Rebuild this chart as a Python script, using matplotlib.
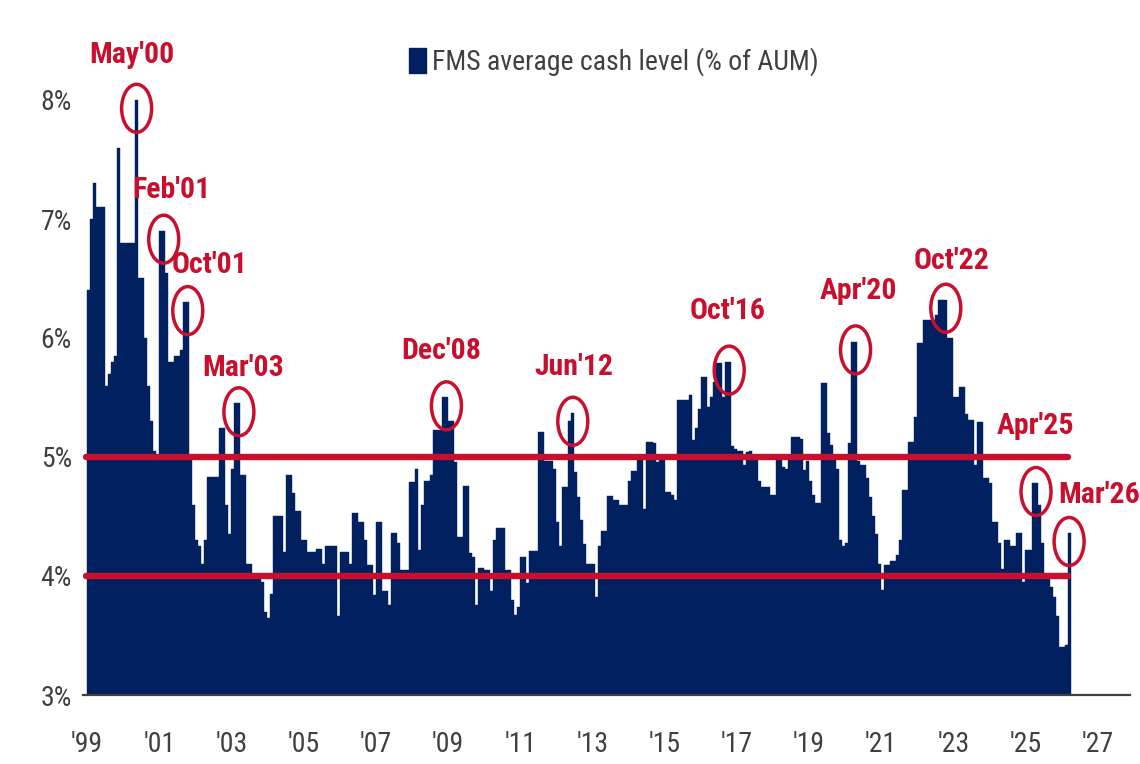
import numpy as np
import matplotlib
matplotlib.use("Agg")
import matplotlib.pyplot as plt
from matplotlib import font_manager as fm
from matplotlib.patches import Ellipse, Patch

# ---------------- data (monthly FMS average cash level, % of AUM) ----------------
cash_1999 = [6.4, 7.0, 7.3, 7.1, 7.1, 7.1, 5.6, 5.7, 5.8, 5.85, 7.6, 6.8]
cash_2000 = [6.8, 6.8, 6.8, 6.8, 8.0, 6.5, 6.5, 6.0, 5.6, 5.3, 5.05, 5.0]
cash_2001 = [6.9, 6.9, 6.55, 5.8, 5.8, 5.85, 5.85, 5.9, 6.3, 6.3, 5.0, 4.6]
cash_2002 = [4.3, 4.25, 4.1, 4.3, 4.83, 4.83, 4.83, 4.83, 5.24, 5.24, 4.6, 4.35]
cash_2003 = [4.9, 5.45, 5.45, 4.85, 4.85, 4.1, 4.1, 4.0, 3.98, 3.98, 3.95, 3.7]
cash_2004 = [3.65, 3.85, 4.5, 4.5, 4.5, 4.2, 4.85, 4.85, 4.7, 4.55, 4.55, 4.3]
cash_2005 = [4.3, 4.2, 4.2, 4.2, 4.23, 4.23, 4.1, 4.25, 4.25, 4.25, 4.25, 3.66]
cash_2006 = [4.2, 4.2, 4.2, 4.1, 4.53, 4.53, 4.45, 4.45, 4.3, 4.09, 4.09, 3.84]
cash_2007 = [4.45, 4.45, 3.87, 3.87, 3.76, 4.36, 4.36, 4.28, 4.05, 4.05, 4.05, 4.79]
cash_2008 = [4.79, 4.9, 4.22, 4.6, 4.8, 4.8, 4.85, 5.23, 5.23, 5.23, 5.5, 5.5]
cash_2009 = [5.3, 5.3, 4.96, 4.33, 4.33, 4.76, 4.76, 4.19, 4.16, 3.76, 4.07, 4.07]
cash_2010 = [4.05, 4.05, 3.87, 4.3, 4.4, 4.4, 4.4, 4.05, 4.05, 3.8, 3.67, 3.74]
cash_2011 = [4.16, 4.16, 3.94, 4.21, 4.21, 4.21, 5.21, 5.21, 4.97, 4.97, 4.97, 4.9]
cash_2012 = [4.45, 4.25, 4.75, 4.75, 5.3, 5.37, 4.87, 4.66, 4.47, 4.27, 4.1, 4.1]
cash_2013 = [4.1, 3.82, 4.25, 4.38, 4.38, 4.67, 4.67, 4.64, 4.64, 4.6, 4.6, 4.6]
cash_2014 = [4.8, 4.88, 4.88, 5.01, 5.01, 4.56, 5.13, 5.13, 5.12, 4.96, 5.0, 5.0]
cash_2015 = [4.71, 4.71, 4.68, 4.64, 5.48, 5.48, 5.48, 5.48, 5.52, 5.14, 5.24, 5.4]
cash_2016 = [5.67, 5.67, 5.42, 5.5, 5.63, 5.79, 5.79, 5.5, 5.8, 5.8, 5.09, 5.07]
cash_2017 = [5.05, 5.05, 4.93, 5.04, 5.05, 5.0, 5.0, 4.8, 4.75, 4.75, 4.75, 4.68]
cash_2018 = [4.68, 5.0, 5.0, 4.92, 4.9, 5.0, 5.17, 5.17, 5.17, 5.15, 4.89, 4.97]
cash_2019 = [4.8, 4.68, 4.61, 4.61, 5.62, 5.62, 5.2, 5.1, 5.0, 4.9, 4.3, 4.25]
cash_2020 = [4.28, 5.12, 5.97, 5.97, 4.97, 4.93, 4.93, 4.82, 4.66, 4.5, 4.35, 4.1]
cash_2021 = [3.88, 4.09, 4.09, 4.13, 4.13, 4.18, 4.3, 4.72, 4.72, 5.13, 5.13, 5.34]
cash_2022 = [5.96, 5.96, 6.15, 6.15, 6.15, 6.15, 6.19, 6.32, 6.32, 6.32, 6.0, 6.0]
cash_2023 = [5.5, 5.5, 5.59, 5.59, 5.36, 5.31, 5.31, 4.93, 5.29, 5.29, 4.82, 4.82]
cash_2024 = [4.78, 4.45, 4.45, 4.28, 4.06, 4.3, 4.3, 4.25, 4.25, 4.36, 4.36, 3.95]
cash_2025 = [4.22, 4.22, 4.78, 4.78, 4.6, 4.28, 4.0, 4.0, 3.91, 3.82, 3.66, 3.4]
cash_2026 = [3.4, 3.42, 4.36]

start_year = 1999
series_label = "FMS average cash level (% of AUM)"

ytick_values = [3, 4, 5, 6, 7, 8]
ytick_labels = ["3%", "4%", "5%", "6%", "7%", "8%"]
xtick_years = list(range(1999, 2028, 2))
xtick_labels = ["'99", "'01", "'03", "'05", "'07", "'09", "'11", "'13",
                "'15", "'17", "'19", "'21", "'23", "'25", "'27"]

ref_levels = [4, 5]

annot_labels = ["May'00", "Feb'01", "Oct'01", "Mar'03", "Dec'08", "Jun'12",
                "Oct'16", "Apr'20", "Oct'22", "Apr'25", "Mar'26"]
annot_dates = [(2000, 5), (2001, 2), (2001, 10), (2003, 3), (2008, 12), (2012, 6),
               (2016, 10), (2020, 4), (2022, 10), (2025, 4), (2026, 3)]

# ---------------- layout / style ----------------
annot_text_offsets_px = [(-5, 53), (8, 49), (22, 46), (4, 44), (-5, 55), (1, 54),
                         (-2, 59), (3, 59), (6, 47), (-1, 66), (30, 46)]

NAVY = "#002060"
RED = "#C8102E"
GREY = "#404040"

cash = np.array(cash_1999 + cash_2000 + cash_2001 + cash_2002 + cash_2003 + cash_2004 +
                cash_2005 + cash_2006 + cash_2007 + cash_2008 + cash_2009 + cash_2010 +
                cash_2011 + cash_2012 + cash_2013 + cash_2014 + cash_2015 + cash_2016 +
                cash_2017 + cash_2018 + cash_2019 + cash_2020 + cash_2021 + cash_2022 +
                cash_2023 + cash_2024 + cash_2025 + cash_2026)
months = np.arange(len(cash))


def month_index(y, mo):
    return (y - start_year) * 12 + (mo - 1)


def pick_font():
    names = {f.name for f in fm.fontManager.ttflist}
    for cand in ["Liberation Sans Narrow", "Arial Narrow", "Roboto Condensed",
                 "Open Sans Condensed"]:
        if cand in names:
            return cand, "normal"
    for f in fm.fontManager.ttflist:
        if f.name == "DejaVu Sans" and f.stretch in ("condensed", 75, "semi-condensed"):
            return "DejaVu Sans", "condensed"
    return "Liberation Sans", "normal"


FONT, STRETCH = pick_font()
plt.rcParams["font.family"] = [FONT, "DejaVu Sans"]
plt.rcParams["font.stretch"] = STRETCH

W, H = 1140, 764
fig = plt.figure(figsize=(W / 100, H / 100), dpi=100)
fig.patch.set_facecolor("white")

# pixel geometry
ax_left_px, ax_right_px = 83, 1130
ax_bottom_px, ax_top_px = 695, 64
x0_px, px_per_month = 87.0, 3.008
px_per_unit = 119.0

ax = fig.add_axes([ax_left_px / W, (H - ax_bottom_px) / H,
                   (ax_right_px - ax_left_px) / W, (ax_bottom_px - ax_top_px) / H])
ax.set_xlim((ax_left_px - x0_px) / px_per_month, (ax_right_px - x0_px) / px_per_month)
ax.set_ylim(3, 3 + (ax_bottom_px - ax_top_px) / px_per_unit)

ax.bar(months, cash, width=1.0, align="edge", color=NAVY, edgecolor=NAVY,
       linewidth=0.3, zorder=2)

for lev in ref_levels:
    ax.plot([-0.4, len(cash) - 0.9], [lev, lev], color=RED, lw=4.6,
            solid_capstyle="round", zorder=3)

for lab, (yy, mo), (dx, dy) in zip(annot_labels, annot_dates, annot_text_offsets_px):
    m = month_index(yy, mo)
    cx = m + 0.5
    cy = cash[m] - 0.07
    ax.add_patch(Ellipse((cx, cy), width=30 / px_per_month, height=48 / px_per_unit,
                         fill=False, edgecolor=RED, lw=2.5, zorder=4))
    ax.annotate(lab, xy=(cx, cy), xytext=(dx, dy), textcoords="offset pixels",
                ha="center", va="center", color=RED, fontsize=21.5, fontweight="bold",
                zorder=5)

for s in ["top", "right", "left"]:
    ax.spines[s].set_visible(False)
ax.spines["bottom"].set_color(GREY)
ax.spines["bottom"].set_linewidth(1.6)
ax.spines["bottom"].set_zorder(6)

ax.set_yticks(ytick_values)
ax.set_yticklabels(ytick_labels)
ax.set_xticks([month_index(y, 1) for y in xtick_years])
ax.set_xticklabels(xtick_labels)
ax.tick_params(axis="y", length=0, pad=8, labelsize=20, labelcolor=GREY)
ax.tick_params(axis="x", length=0, pad=26, labelsize=20, labelcolor=GREY)

handle = Patch(facecolor=NAVY, edgecolor=NAVY)
fig.legend([handle], [series_label], loc="center",
           bbox_to_anchor=(614 / W, 1 - 62 / H), frameon=False, fontsize=20,
           handlelength=0.6, handleheight=1.0, handletextpad=0.25,
           labelcolor=GREY)

fig.savefig("out.png", dpi=100, facecolor="white")
